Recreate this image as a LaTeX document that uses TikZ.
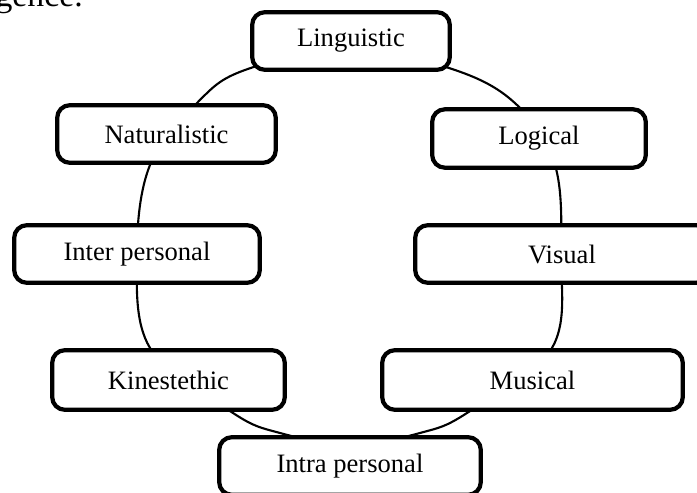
\documentclass[tikz,border=0pt]{standalone}
\usepackage{fontspec}
\setmainfont{Liberation Serif}
\usepackage{tikz}
\usetikzlibrary{positioning}

\begin{document}
\begin{tikzpicture}[
MyBoxes/.style={draw=black,fill=white,line width=3pt,rounded corners=9pt,minimum height=1.44cm,inner sep=0pt,font=\fontsize{18.9}{22}\selectfont},
MyRing/.style={draw=black,line width=1.5pt},
MyText/.style={font=\fontsize{24}{28}\selectfont,inner sep=0pt}
]
\useasboundingbox (0,0) rectangle (17.425,12.325);
\clip (0,0) rectangle (17.425,12.325);

% end of the sentence above the figure
\node[MyText,anchor=base east] (Txt) at (2.075,12.15) {gence.};

% the ring, drawn first so that the boxes cover it
\draw[MyRing] plot[smooth cycle, tension=0.6] coordinates {
(8.75,11.125) (11.375,10.575) (12.925,9.7) (13.875,8.2) (14.025,6.0)
(13.8,3.625) (11.675,2.0) (10.5,1.5) (8.75,1.2) (7.0,1.5) (5.825,2.0)
(3.75,3.625) (3.425,6.0) (3.75,8.2) (4.925,9.75) (6.125,10.575)};

% centres of the boxes
\coordinate (A) at (8.775,11.3);
\coordinate (B) at (13.475,8.8625);
\coordinate (C) at (14.05,5.975);
\coordinate (D) at (13.3125,2.825);
\coordinate (E) at (8.75,0.675);
\coordinate (F) at (4.2125,2.825);
\coordinate (G) at (3.425,5.975);
\coordinate (H) at (4.1625,8.975);

\node[MyBoxes,minimum width=4.94cm] (Ling) at (A) {Linguistic};
\node[MyBoxes,minimum width=5.34cm,minimum height=1.46cm] (Logi) at (B) {Logical};
\node[MyBoxes,minimum width=7.34cm] (Visu) at (C) {Visual};
\node[MyBoxes,minimum width=7.515cm,minimum height=1.49cm] (Musi) at (D) {Musical};
\node[MyBoxes,minimum width=6.54cm] (Intra) at (E) {Intra personal};
\node[MyBoxes,minimum width=5.815cm,minimum height=1.49cm] (Kine) at (F) {Kinestethic};
\node[MyBoxes,minimum width=6.14cm] (Inter) at (G) {Inter personal};
\node[MyBoxes,minimum width=5.465cm] (Natu) at (H) {Naturalistic};

\end{tikzpicture}
\end{document}
